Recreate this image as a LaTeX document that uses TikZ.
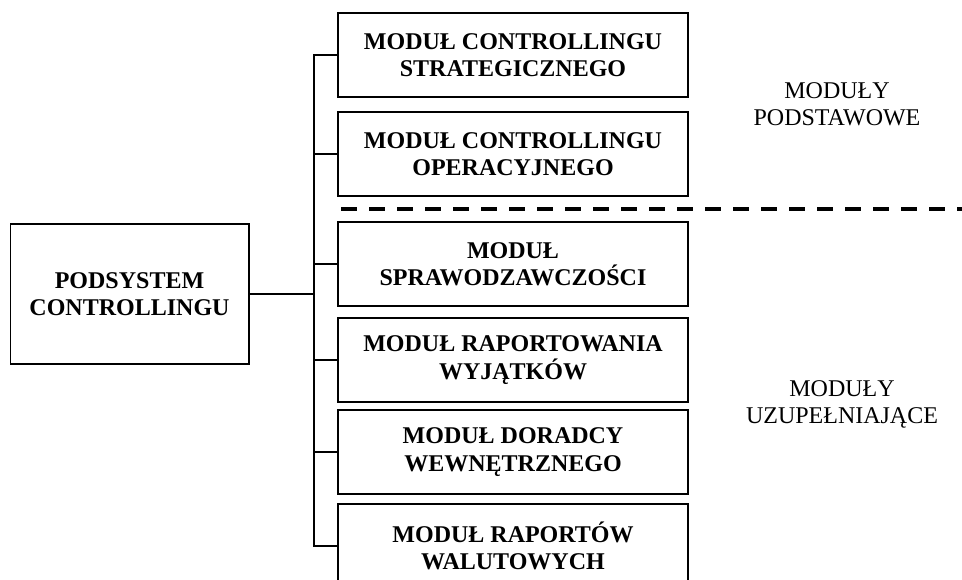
\documentclass[tikz,border=0pt]{standalone}
\usepackage{fontspec}
\setmainfont{Liberation Serif}

\begin{document}
\begin{tikzpicture}[x=0.75pt,y=-0.75pt,
    modul/.style={draw,line width=1pt,minimum width=262.5pt,minimum height=63pt,
        align=center,font=\fontsize{18}{20.5}\selectfont\bfseries},
    grupa/.style={align=center,font=\fontsize{18}{20.5}\selectfont},
    linia/.style={line width=1pt}]
    \clip (0,0) rectangle (962,580);

    \path
    (129.5,294) node[modul,minimum width=179pt,minimum height=105pt](sys) {PODSYSTEM\\CONTROLLINGU}
    (513,55) node[modul](m1) {MODUŁ CONTROLLINGU\\STRATEGICZNEGO}
    (513,154) node[modul](m2) {MODUŁ CONTROLLINGU\\OPERACYJNEGO}
    (513,264) node[modul](m3) {MODUŁ\\SPRAWODZAWCZOŚCI}
    (513,360) node[modul](m4) {MODUŁ RAPORTOWANIA\\WYJĄTKÓW}
    (513,452) node[modul](m5) {MODUŁ DORADCY\\WEWNĘTRZNEGO}
    (513,546) node[modul](m6) {MODUŁ RAPORTÓW\\WALUTOWYCH}
    (837,104.5) node[grupa](podst) {MODUŁY\\PODSTAWOWE}
    (842,404.5) node[grupa](uzup) {MODUŁY\\UZUPEŁNIAJĄCE};

    % szyna laczaca moduly
    \coordinate (bus) at (314,294);
    \draw[linia] (sys.east) -- (bus);
    \draw[linia] (m1.west) -- (m1.west -| bus) -- (m6.west -| bus) -- (m6.west);
    \foreach \m in {m2,m3,m4,m5}
        \draw[linia] (\m.west -| bus) -- (\m.west);

    % granica miedzy grupami modulow
    \coordinate (granica) at (341,209);
    \coordinate (granicakoniec) at (975,209);
    \draw[line width=3pt,dash pattern=on 12pt off 9pt] (granica) -- (granicakoniec);
\end{tikzpicture}
\end{document}
